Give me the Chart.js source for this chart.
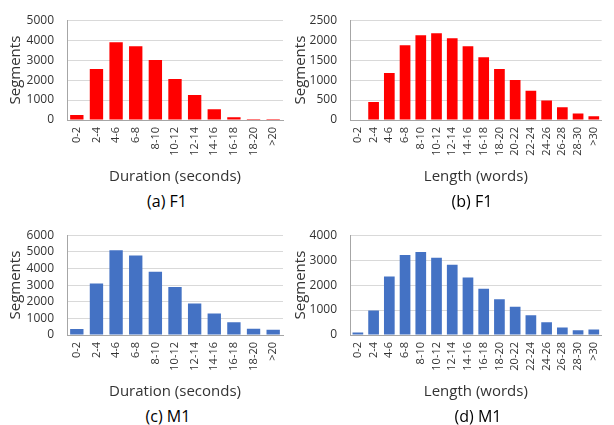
<!DOCTYPE html>
<html>
<head>
<meta charset="utf-8">
<script src="https://cdn.jsdelivr.net/npm/chart.js@4.4.0/dist/chart.umd.min.js"></script>
<style>
    body { margin: 0; width: 614px; height: 425px; position: relative; overflow: hidden; background: #fff; font-family: 'Open Sans', sans-serif; }
    .panel { position: absolute; }
    .caption { position: absolute; width: 120px; margin-left: -60px; text-align: center; font-size: 16px; line-height: 20px; color: #000; }
</style>
</head>
<body>
<div class="panel" style="left:0;top:0"><canvas id="chartA" width="300" height="190"></canvas></div>
<div class="panel" style="left:290px;top:0"><canvas id="chartB" width="324" height="190"></canvas></div>
<div class="panel" style="left:0;top:215px"><canvas id="chartC" width="300" height="190"></canvas></div>
<div class="panel" style="left:290px;top:215px"><canvas id="chartD" width="324" height="190"></canvas></div>
<div class="caption" style="left:167px;top:191px">(a) F1</div>
<div class="caption" style="left:472px;top:191px">(b) F1</div>
<div class="caption" style="left:168px;top:406px">(c) M1</div>
<div class="caption" style="left:478px;top:406px">(d) M1</div>

<script>
/* ==============================
   SEGMENT DISTRIBUTIONS
   ============================== */

const durationLabels = ['0-2', '2-4', '4-6', '6-8', '8-10', '10-12', '12-14', '14-16', '16-18', '18-20', '>20'];
const lengthLabels = ['0-2', '2-4', '4-6', '6-8', '8-10', '10-12', '12-14', '14-16', '16-18', '18-20',
                      '20-22', '22-24', '24-26', '26-28', '28-30', '>30'];

const f1Duration = [250, 2550, 3900, 3700, 3000, 2050, 1250, 540, 140, 5, 2];
const f1Length = [15, 450, 1180, 1870, 2120, 2170, 2050, 1850, 1570, 1280, 1000, 730, 490, 320, 160, 95];
const m1Duration = [360, 3100, 5100, 4780, 3800, 2880, 1900, 1290, 760, 380, 320];
const m1Length = [100, 980, 2340, 3210, 3330, 3100, 2820, 2300, 1850, 1430, 1130, 790, 510, 300, 190, 220];

const RED = '#ff0000';
const BLUE = '#4472c4';
const TEXT = '#333333';
const FONT = "'Open Sans', sans-serif";

Chart.defaults.font.family = FONT;
Chart.defaults.color = TEXT;

function renderPanel(id, labels, values, color, yMax, yStep, xTitle, pad, yWidth) {
    const canvas = document.getElementById(id);
    if (!canvas) return;
    return new Chart(canvas, {
        type: 'bar',
        data: {
            labels,
            datasets: [{
                data: values,
                backgroundColor: color,
                borderWidth: 0,
                barPercentage: 0.68,
                categoryPercentage: 1
            }]
        },
        options: {
            responsive: false,
            animation: false,
            layout: { padding: pad },
            plugins: { legend: { display: false }, tooltip: { enabled: false } },
            scales: {
                x: {
                    grid: { display: false, drawTicks: false },
                    border: { color: '#a6a6a6', width: 1 },
                    ticks: { autoSkip: false, minRotation: 90, maxRotation: 90, padding: 7, font: { size: 11 }, color: TEXT },
                    title: { display: true, text: xTitle, font: { size: 15 }, color: TEXT, padding: { top: 0, bottom: 4 } },
                    afterFit: s => { s.height = 70; }
                },
                y: {
                    min: 0,
                    max: yMax,
                    grid: { color: '#d9d9d9', drawTicks: false },
                    border: { color: '#a6a6a6', width: 1 },
                    ticks: {
                        stepSize: yStep, autoSkip: false, padding: 13,
                        font: { size: 12 }, color: TEXT,
                        callback: v => String(v)
                    },
                    title: { display: true, text: 'Segments', font: { size: 15 }, color: TEXT, padding: { top: 0, bottom: 0 } },
                    afterFit: s => { s.width = yWidth; }
                }
            }
        }
    });
}

const LEFT_PAD = { left: 7, top: 16, right: 17, bottom: 0 };
const RIGHT_PAD = { left: 2, top: 16, right: 0, bottom: 0 };

renderPanel('chartA', durationLabels, f1Duration, RED, 5000, 1000, 'Duration (seconds)', LEFT_PAD, 60);
renderPanel('chartB', lengthLabels, f1Length, RED, 2500, 500, 'Length (words)', RIGHT_PAD, 58);
renderPanel('chartC', durationLabels, m1Duration, BLUE, 6000, 1000, 'Duration (seconds)', LEFT_PAD, 60);
renderPanel('chartD', lengthLabels, m1Length, BLUE, 4000, 1000, 'Length (words)', RIGHT_PAD, 58);
</script>
</body>
</html>
